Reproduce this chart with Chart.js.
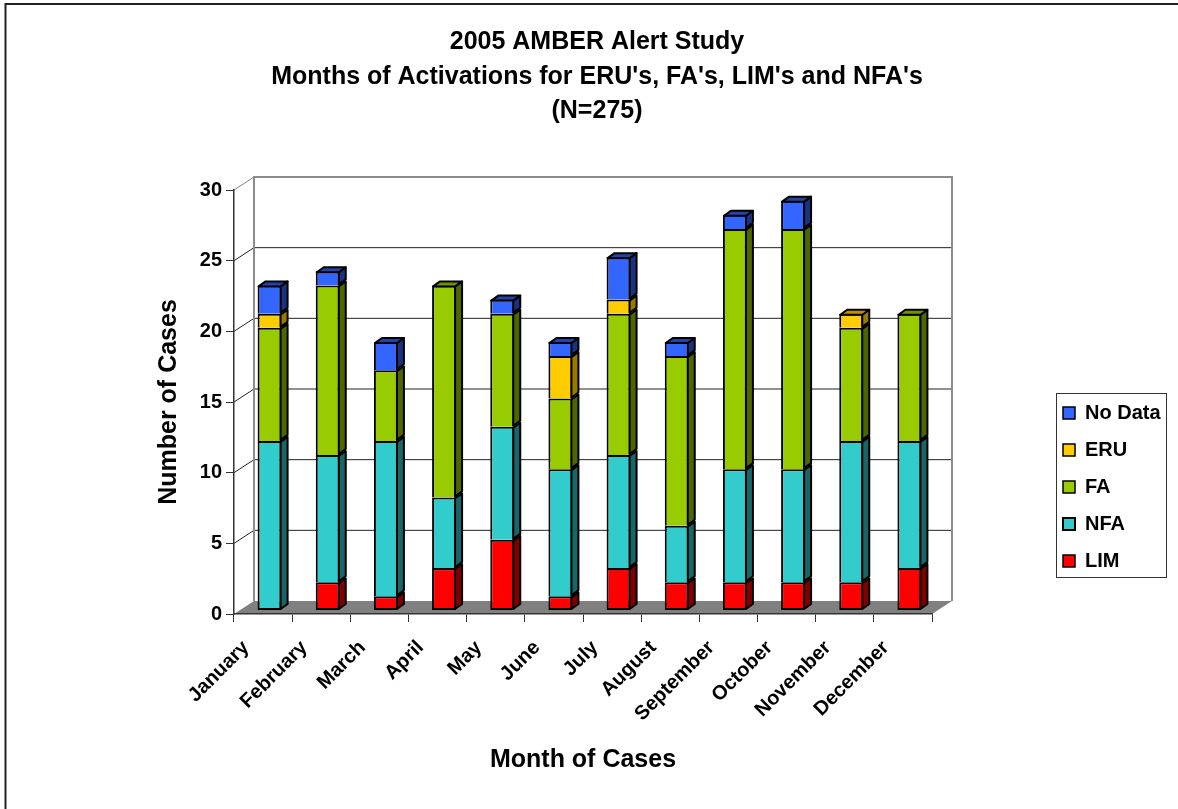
<!DOCTYPE html>
<html>
<head>
<meta charset="utf-8">
<title>2005 AMBER Alert Study</title>
<script src="https://cdn.jsdelivr.net/npm/chart.js@4"></script>
<style>
    html, body { margin: 0; padding: 0; background: #fff; }
    canvas { display: block; }
</style>
</head>
<body>
<canvas id="amberChart" width="1178" height="809"></canvas>
<script>
const months = ['January', 'February', 'March', 'April', 'May', 'June', 'July', 'August', 'September', 'October', 'November', 'December'];
const lim = [0, 2, 1, 3, 5, 1, 3, 2, 2, 2, 2, 3];
const nfa = [12, 9, 11, 5, 8, 9, 8, 4, 8, 8, 10, 9];
const fa = [8, 12, 5, 15, 8, 5, 10, 12, 17, 17, 8, 9];
const eru = [1, 0, 0, 0, 0, 3, 1, 0, 0, 0, 1, 0];
const noData = [2, 1, 2, 0, 1, 1, 3, 1, 1, 2, 0, 0];

const seriesNames = ['LIM', 'NFA', 'FA', 'ERU', 'No Data'];
const seriesValues = [lim, nfa, fa, eru, noData];
const seriesColors = ['#FF0000', '#33CCCC', '#99CC00', '#FFCC00', '#3366FF'];
const sideColors = ['#800000', '#1A6666', '#4D6600', '#997A00', '#1A3380'];
const topColors = ['#B00000', '#249090', '#6F9400', '#B89200', '#2244A8'];

const titleLines = ['2005 AMBER Alert Study', "Months of Activations for ERU's, FA's, LIM's and NFA's", '(N=275)'];

const FONT = '"Liberation Sans", Arial, sans-serif';
const WALL_X = 20;
const WALL_Y = 13;
const BAR_X = 6.5;
const BAR_Y = 3.5;
const SIDE_X = 7;
const SIDE_Y = 5;

function lowestSeries(month) {
    return seriesValues.findIndex(values => values[month] > 0);
}

function highestSeries(month) {
    let found = -1;
    seriesValues.forEach((values, i) => { if (values[month] > 0) found = i; });
    return found;
}

function barBorder(ctx) {
    if (ctx.dataIndex === undefined) return 2;
    const bottom = lowestSeries(ctx.dataIndex) === ctx.datasetIndex ? 2 : 0;
    return { top: 2, left: 2, right: 2, bottom: bottom };
}

function fillFace(ctx, points, color) {
    ctx.beginPath();
    points.forEach((p, i) => i ? ctx.lineTo(p[0], p[1]) : ctx.moveTo(p[0], p[1]));
    ctx.closePath();
    ctx.fillStyle = color;
    ctx.fill();
    ctx.strokeStyle = '#000';
    ctx.lineWidth = 2;
    ctx.lineJoin = 'round';
    ctx.stroke();
}

const frame3d = {
    id: 'frame3d',
    afterLayout(chart) {
        // title sits right of the page centre, legend is a free box
        chart.titleBlock.left = 16;
        chart.titleBlock.right = 1178;
        const legend = chart.legend;
        legend.left = 1046;
        legend.right = 1166;
        legend.width = 120;
        legend.top = 386;
        legend.bottom = 600;
        legend.height = 214;
    },
    beforeDraw(chart) {
        const ctx = chart.ctx;
        const x = chart.scales.x;
        const y = chart.scales.y;

        ctx.save();
        // page frame only shows on the top and left
        ctx.strokeStyle = '#222';
        ctx.lineWidth = 2;
        ctx.beginPath();
        ctx.moveTo(5.5, 809);
        ctx.lineTo(5.5, 4);
        ctx.lineTo(1178, 4);
        ctx.stroke();

        // floor
        ctx.beginPath();
        ctx.moveTo(x.left, y.bottom);
        ctx.lineTo(x.right, y.bottom);
        ctx.lineTo(x.right + WALL_X, y.bottom - WALL_Y);
        ctx.lineTo(x.left + WALL_X, y.bottom - WALL_Y);
        ctx.closePath();
        ctx.fillStyle = '#808080';
        ctx.fill();

        // gridlines on back wall and their run along the side wall
        y.ticks.forEach(tick => {
            const py = y.getPixelForValue(tick.value);
            if (tick.value === 0) return;
            ctx.strokeStyle = tick.value === 30 ? '#808080' : '#222';
            ctx.lineWidth = 1;
            ctx.beginPath();
            ctx.moveTo(x.left, py);
            ctx.lineTo(x.left + WALL_X, py - WALL_Y);
            if (tick.value !== 30) ctx.lineTo(x.right + WALL_X, py - WALL_Y);
            ctx.stroke();
        });

        // wall edges
        ctx.strokeStyle = '#8C8C8C';
        ctx.lineWidth = 2;
        ctx.beginPath();
        ctx.moveTo(x.left + WALL_X, y.bottom - WALL_Y);
        ctx.lineTo(x.left + WALL_X, y.top - WALL_Y);
        ctx.lineTo(x.right + WALL_X, y.top - WALL_Y);
        ctx.lineTo(x.right + WALL_X, y.bottom - WALL_Y);
        ctx.stroke();

        // legend box
        ctx.fillStyle = '#fff';
        ctx.fillRect(1056, 393, 111, 185);
        ctx.strokeStyle = '#333';
        ctx.lineWidth = 1;
        ctx.strokeRect(1056.5, 393.5, 110, 184);
        ctx.restore();
    },
    beforeDatasetDraw(chart) {
        chart.ctx.save();
        chart.ctx.translate(BAR_X, -BAR_Y);
    },
    afterDatasetDraw(chart, args) {
        const ctx = chart.ctx;
        const series = args.index;
        args.meta.data.forEach((bar, month) => {
            if (seriesValues[series][month] <= 0) return;
            const p = bar.getProps(['x', 'y', 'base', 'width'], true);
            const left = p.x - p.width / 2 + 1;
            const right = p.x + p.width / 2 - 1;
            fillFace(ctx, [
                [right, p.y + 1], [right + SIDE_X, p.y + 1 - SIDE_Y],
                [right + SIDE_X, p.base - 1 - SIDE_Y], [right, p.base - 1]
            ], sideColors[series]);
            if (highestSeries(month) === series) {
                fillFace(ctx, [
                    [left, p.y + 1], [left + SIDE_X, p.y + 1 - SIDE_Y],
                    [right + SIDE_X, p.y + 1 - SIDE_Y], [right, p.y + 1]
                ], topColors[series]);
            }
        });
        ctx.restore();
    }
};

new Chart(document.getElementById('amberChart'), {
    type: 'bar',
    data: {
        labels: months,
        datasets: seriesNames.map((name, i) => ({
            label: name,
            data: seriesValues[i],
            backgroundColor: seriesColors[i],
            borderColor: '#000',
            borderWidth: barBorder,
            borderSkipped: false,
            inflateAmount: 0,
            barThickness: 24,
            clip: false
        }))
    },
    plugins: [frame3d],
    options: {
        responsive: false,
        animation: false,
        events: [],
        layout: { padding: { left: 0, right: 246, top: 0, bottom: 0 } },
        plugins: {
            tooltip: { enabled: false },
            title: {
                display: true,
                text: titleLines,
                color: '#000',
                font: { family: FONT, size: 25, weight: 'bold', lineHeight: 34.5 / 25 },
                padding: { top: 25, bottom: 61.5 }
            },
            legend: {
                position: 'chartArea',
                reverse: true,
                align: 'start',
                labels: {
                    color: '#000',
                    font: { family: FONT, size: 20, weight: 'bold' },
                    boxWidth: 12,
                    boxHeight: 12,
                    padding: 17
                }
            }
        },
        scales: {
            x: {
                stacked: true,
                afterFit(scale) { scale.height = 195; },
                border: { color: '#333', width: 1.5 },
                grid: { offset: true, drawOnChartArea: false, color: '#333', tickLength: 8 },
                ticks: {
                    color: '#000',
                    font: { family: FONT, size: 20, weight: 'bold' },
                    minRotation: 45,
                    maxRotation: 45,
                    autoSkip: false,
                    padding: 14,
                    labelOffset: -17
                },
                title: {
                    display: true,
                    text: 'Month of Cases',
                    color: '#000',
                    font: { family: FONT, size: 25, weight: 'bold' },
                    padding: { top: 0, bottom: 34 }
                }
            },
            y: {
                stacked: true,
                min: 0,
                max: 30,
                afterFit(scale) { scale.width = 234; },
                border: { color: '#333', width: 1.5 },
                grid: { drawOnChartArea: false, color: '#333', tickLength: 8 },
                ticks: {
                    color: '#000',
                    stepSize: 5,
                    font: { family: FONT, size: 20, weight: 'bold' },
                    padding: 4
                },
                title: {
                    display: true,
                    text: 'Number of Cases',
                    color: '#000',
                    font: { family: FONT, size: 25, weight: 'bold' },
                    padding: { top: 154, bottom: 0 }
                }
            }
        }
    }
});
</script>
</body>
</html>
